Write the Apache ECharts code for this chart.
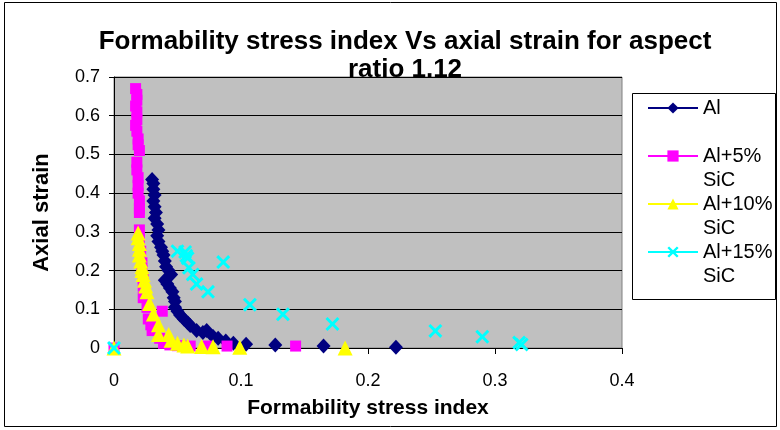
<!DOCTYPE html>
<html>
<head>
<meta charset="utf-8">
<script src="https://cdn.jsdelivr.net/npm/echarts@6/dist/echarts.min.js"></script>
<style>
html,body{margin:0;padding:0;background:#fff;}
#chart{width:780px;height:430px;}
</style>
</head>
<body>
<div id="chart"></div>
<script>
var titleText = 'Formability stress index Vs axial strain for aspect\nratio 1.12';
var xAxisName = 'Formability stress index';
var yAxisName = 'Axial strain';
var seriesNames = ['Al', 'Al+5% SiC', 'Al+10% SiC', 'Al+15% SiC'];
var xTicks = {min: 0, max: 0.4, interval: 0.1};
var yTicks = {min: 0, max: 0.7, interval: 0.1};

var al = [
  [0.030,0.435],[0.031,0.425],[0.031,0.41],[0.032,0.395],[0.031,0.38],[0.032,0.365],
  [0.033,0.35],[0.032,0.335],[0.034,0.32],[0.035,0.305],[0.034,0.29],[0.035,0.275],
  [0.037,0.26],[0.038,0.25],[0.039,0.24],[0.040,0.225],[0.041,0.21],[0.043,0.2],
  [0.045,0.19],[0.040,0.175],[0.042,0.165],[0.044,0.155],[0.046,0.145],[0.047,0.13],
  [0.048,0.12],[0.048,0.105],[0.050,0.095],[0.052,0.085],[0.055,0.075],[0.058,0.065],
  [0.060,0.058],[0.065,0.045],[0.070,0.04],[0.073,0.045],[0.078,0.03],[0.082,0.025],
  [0.088,0.018],[0.094,0.012],[0.104,0.01],[0.127,0.008],[0.165,0.005],[0.222,0.002]
];
var al5 = [
  [0,0],[0.017,0.67],[0.018,0.655],[0.018,0.64],[0.017,0.625],[0.018,0.61],[0.018,0.59],
  [0.017,0.575],[0.018,0.56],[0.019,0.54],[0.019,0.525],[0.020,0.51],[0.018,0.48],
  [0.018,0.46],[0.019,0.44],[0.019,0.42],[0.019,0.40],[0.020,0.38],[0.020,0.36],
  [0.020,0.35],[0.020,0.305],[0.020,0.28],[0.021,0.25],[0.022,0.22],[0.022,0.2],
  [0.023,0.18],[0.023,0.16],[0.024,0.14],[0.023,0.13],[0.026,0.105],[0.038,0.095],
  [0.027,0.075],[0.029,0.06],[0.030,0.045],[0.036,0.025],[0.039,0.012],[0.044,0.008],
  [0.050,0.006],[0.060,0.005],[0.074,0.005],[0.089,0.005],[0.143,0.005]
];
var al10 = [
  [0,0],[0.019,0.297],[0.019,0.285],[0.020,0.27],[0.020,0.255],[0.020,0.24],[0.021,0.225],
  [0.022,0.21],[0.022,0.2],[0.023,0.19],[0.024,0.175],[0.025,0.16],[0.026,0.145],
  [0.028,0.115],[0.031,0.088],[0.035,0.06],[0.035,0.035],[0.043,0.035],[0.045,0.02],
  [0.050,0.012],[0.055,0.008],[0.058,0.005],[0.069,0.004],[0.078,0.003],[0.099,0.002],
  [0.182,0]
];
var al15 = [
  [0,0],[0.050,0.25],[0.056,0.248],[0.057,0.238],[0.058,0.232],[0.059,0.207],[0.062,0.19],
  [0.065,0.165],[0.074,0.145],[0.086,0.222],[0.107,0.112],[0.133,0.087],[0.172,0.062],
  [0.253,0.044],[0.290,0.029],[0.319,0.014],[0.321,0.009]
];

var crossPath = 'path://M0,1.5 L1.5,0 L5,3.5 L8.5,0 L10,1.5 L6.5,5 L10,8.5 L8.5,10 L5,6.5 L1.5,10 L0,8.5 L3.5,5 Z';
var colors = ['#000080', '#FF00FF', '#FFFF00', '#00FFFF'];
var symbols = ['diamond', 'rect', 'triangle', crossPath];
var sizes = [[14,15], 11, 15, 14];
var datasets = [al, al5, al10, al15];

var series = datasets.map(function (d, i) {
  return {
    name: seriesNames[i],
    type: 'line',
    data: d,
    symbol: symbols[i],
    symbolSize: sizes[i],
    showSymbol: true,
    clip: false,
    itemStyle: {color: colors[i], opacity: 1},
    lineStyle: {color: colors[i], width: 0, opacity: 0},
    emphasis: {disabled: true},
    animation: false
  };
});

var chart = echarts.init(document.getElementById('chart'), null, {renderer: 'canvas'});
chart.setOption({
  backgroundColor: '#fff',
  animation: false,
  title: {
    text: titleText,
    left: 400,
    textAlign: 'center',
    top: 23,
    textStyle: {fontFamily: 'Liberation Sans, Arial, sans-serif', fontWeight: 'bold', fontSize: 26, lineHeight: 28, color: '#000'}
  },
  grid: {
    left: 114, right: 158, top: 77, bottom: 82,
    show: true, backgroundColor: '#C0C0C0', borderColor: '#808080', borderWidth: 1
  },
  xAxis: {
    type: 'value', min: xTicks.min, max: xTicks.max, interval: xTicks.interval,
    name: xAxisName, nameLocation: 'middle', nameGap: 50,
    nameTextStyle: {fontFamily: 'Liberation Sans, Arial, sans-serif', fontWeight: 'bold', fontSize: 21, color: '#000'},
    axisLine: {show: true, lineStyle: {color: '#000', width: 1}},
    axisTick: {show: true, length: 6, lineStyle: {color: '#000'}},
    axisLabel: {margin: 24, fontFamily: 'Liberation Sans, Arial, sans-serif', fontSize: 18, color: '#000'},
    splitLine: {show: false}
  },
  yAxis: {
    type: 'value', min: yTicks.min, max: yTicks.max, interval: yTicks.interval,
    name: yAxisName, nameLocation: 'middle', nameGap: 61,
    nameTextStyle: {fontFamily: 'Liberation Sans, Arial, sans-serif', fontWeight: 'bold', fontSize: 22, color: '#000'},
    axisLine: {show: true, lineStyle: {color: '#000', width: 1}},
    axisTick: {show: true, length: 5, lineStyle: {color: '#000'}},
    axisLabel: {margin: 14, fontFamily: 'Liberation Sans, Arial, sans-serif', fontSize: 18, color: '#000'},
    splitLine: {show: true, lineStyle: {color: '#000', width: 1}}
  },
  legend: {
    orient: 'vertical',
    left: 647,
    top: 72,
    padding: 0,
    itemGap: -24,
    itemWidth: 50,
    itemHeight: 14,
    selectedMode: false,
    data: seriesNames,
    formatter: function (name) {
      var parts = name.split(' ');
      if (parts.length === 1) return '\u00a0\n' + parts[0] + '\n\u00a0';
      return '\u00a0\n' + parts[0] + '\n' + parts[1];
    },
    textStyle: {fontFamily: 'Liberation Sans, Arial, sans-serif', fontSize: 20, lineHeight: 24, color: '#000'},
    lineStyle: {width: 2, opacity: 1}
  },
  graphic: [
    {type: 'rect', z: -1, silent: true, shape: {x: 632.5, y: 93.5, width: 143, height: 206},
     style: {fill: '#fff', stroke: '#000', lineWidth: 1}},
    {type: 'rect', z: 100, silent: true, shape: {x: 4.5, y: 2.5, width: 772, height: 424},
     style: {fill: 'none', stroke: '#000', lineWidth: 1}}
  ],
  series: series
});
</script>
</body>
</html>
